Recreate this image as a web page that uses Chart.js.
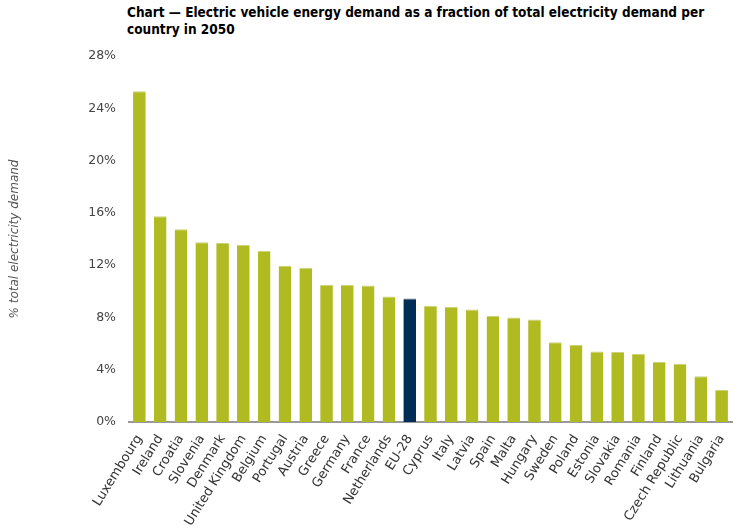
<!DOCTYPE html>
<html>
<head>
<meta charset="utf-8">
<script src="https://cdn.jsdelivr.net/npm/chart.js@4/dist/chart.umd.min.js"></script>
<style>
    html, body { margin: 0; padding: 0; background: #fff; }
    #wrap { position: relative; width: 740px; height: 530px; }
    #title {
        position: absolute; left: 127px; top: 4px; width: 610px;
        font-family: "DejaVu Sans Condensed", "DejaVu Sans", sans-serif;
        font-weight: bold; font-size: 13.5px; line-height: 17px; color: #000;
    }
    canvas { position: absolute; left: 0; top: 0; }
</style>
</head>
<body>
<div id="wrap">
    <div id="title">Chart — Electric vehicle energy demand as a fraction of total electricity demand per country in 2050</div>
    <canvas id="chart" width="740" height="530"></canvas>
</div>
<script>
// Countries, sorted by share
const countries = ['Luxembourg', 'Ireland', 'Croatia', 'Slovenia', 'Denmark', 'United Kingdom', 'Belgium',
    'Portugal', 'Austria', 'Greece', 'Germany', 'France', 'Netherlands', 'EU-28', 'Cyprus', 'Italy',
    'Latvia', 'Spain', 'Malta', 'Hungary', 'Sweden', 'Poland', 'Estonia', 'Slovakia', 'Romania',
    'Finland', 'Czech Republic', 'Lithuania', 'Bulgaria'];

// EV demand as % of total electricity demand
const evShare = [25.3, 15.75, 14.75, 13.75, 13.7, 13.55, 13.1,
    11.95, 11.8, 10.5, 10.5, 10.45, 9.6, 9.45, 8.9, 8.8,
    8.6, 8.1, 8.0, 7.85, 6.1, 5.9, 5.4, 5.35, 5.2,
    4.6, 4.45, 3.5, 2.45];

const yTicks = [0, 4, 8, 12, 16, 20, 24, 28];

const green = '#b0bb22';
const greenTop = '#cbd27a';
const navy = '#002d55';
const navyTop = '#5a6f86';

document.addEventListener('DOMContentLoaded', function() {
    const ctx = document.getElementById('chart').getContext('2d');
    new Chart(ctx, {
        type: 'bar',
        data: {
            labels: countries,
            datasets: [{
                data: evShare,
                backgroundColor: countries.map(c => c === 'EU-28' ? navy : green),
                borderColor: countries.map(c => c === 'EU-28' ? navyTop : greenTop),
                borderWidth: { top: 1, left: 0, right: 0, bottom: 0 },
                borderSkipped: false,
                barPercentage: 0.61,
                categoryPercentage: 1.0
            }]
        },
        options: {
            responsive: false,
            animation: false,
            layout: { padding: { top: 56, right: 8, left: 0, bottom: 0 } },
            plugins: {
                legend: { display: false },
                tooltip: { enabled: false }
            },
            scales: {
                x: {
                    grid: { display: false },
                    border: { display: true, color: '#999', width: 2 },
                    afterFit: axis => { axis.height = 108; },
                    ticks: {
                        color: '#333',
                        font: { family: 'DejaVu Sans', size: 13 },
                        maxRotation: 58,
                        minRotation: 58,
                        autoSkip: false,
                        padding: 2
                    }
                },
                y: {
                    min: 0,
                    max: 28,
                    afterBuildTicks: axis => { axis.ticks = yTicks.map(v => ({ value: v })); },
                    afterFit: axis => { axis.width = 129; },
                    grid: { display: false },
                    border: { display: false },
                    ticks: {
                        color: '#444',
                        font: { family: 'DejaVu Sans', size: 12.5 },
                        padding: 5,
                        callback: v => v + '%'
                    },
                    title: {
                        display: true,
                        text: '% total electricity demand',
                        color: '#555',
                        font: { family: 'DejaVu Sans', size: 12, style: 'italic' },
                        padding: { top: 8, bottom: 0 }
                    }
                }
            }
        }
    });
});
</script>
</body>
</html>
